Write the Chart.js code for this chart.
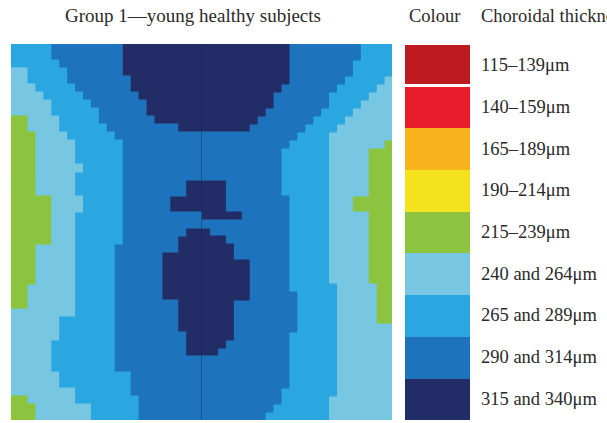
<!DOCTYPE html>
<html>
<head>
<meta charset="utf-8">
<script src="https://cdn.jsdelivr.net/npm/chart.js@4.4.0/dist/chart.umd.min.js"></script>
<style>
    body { margin: 0; width: 607px; height: 423px; overflow: hidden; background: #fff;
           font-family: "Liberation Serif", "DejaVu Serif", serif; color: #2a2a2a; position: relative; }
    #titulo { position: absolute; left: 0px; width: 386px; top: 5px; text-align: center; font-size: 19px; }
    #divMapa { position: absolute; left: 11px; top: 44px; width: 381px; height: 376px; }
    #cabCor { position: absolute; left: 409px; top: 6px; font-size: 18.5px; }
    #cabEsp { position: absolute; left: 481px; top: 6px; font-size: 18.5px; white-space: nowrap; }
    #legenda { position: absolute; left: 405px; top: 45px; }
    .linhaLegenda { height: 41.7px; display: flex; align-items: center; }
    .caixaCor { width: 65px; height: 100%; box-sizing: border-box; }
    .textoLegenda { margin-left: 11px; font-size: 18.5px; white-space: nowrap; }
</style>
</head>
<body>
<div id="titulo">Group 1—young healthy subjects</div>
<div id="cabCor">Colour</div>
<div id="cabEsp">Choroidal thickness</div>
<div id="legenda"></div>
<div id="divMapa"><canvas id="mapa"></canvas></div>

<script>
// classes de espessura (legenda)
const faixas = ['115–139μm', '140–159μm', '165–189μm', '190–214μm', '215–239μm',
                '240 and 264μm', '265 and 289μm', '290 and 314μm', '315 and 340μm'];
const cores = ['#be1a22', '#ea1b2b', '#f8b21c', '#f3e21c', '#8cc43f',
               '#77c6e2', '#2aa7e0', '#1e74bc', '#222c66'];

// grade 48 colunas x 47 linhas, cada linha descrita pelas colunas onde muda a classe
const nColunas = 48;
const verdeEsqFim   = [0,0,0,0,0,0,0,0,0, 2,2, 3,3,3,3,3,3,3,3, 5,5,5,5,5,5, 3,3,3,3,3, 2,2,2, 0,0,0,0,0,0,0,0,0,0,0, 2, 3,3];
const claroEsqFim   = [0,0,0, 2,2,3,4,5,5,6,6,7,8, 8,8,9,8,8,8,9,9,8,8,8,8,8,8,8,8,8,8,8,8,8, 6,6,6, 5,5,5,5, 6,6, 8,8, 10,10];
const celesteEsqFim = [5,5,6,7,7,8,9,10,11,11,12,13, 14,14,14,14,14,14,14,14,14,14,14,14,14,
                       13,13,13,13,13,13,13,13,13,13,13,13,13,13,13,13, 15,15,15, 16,16,16];
const escuroIni     = [14,14,14,14,15,15,16,17,17,18,21, null,null,null,null,null,null, 22,22,20,20,24, null,
                       22,21,21,19,19,19,19,19,19,21,21,21,21,22,22,22, null,null,null,null,null,null,null,null];
const escuroFim     = [35,35,35,35,35,34,33,33,32,31,30, null,null,null,null,null,null, 27,27,27,27,29, null,
                       25,27,28,28,30,30,30,30,30,28,28,28,28,28,27,26, null,null,null,null,null,null,null,null];
const celesteDirIni = [44,44,43,43,42,41,40,40,39,38,37,36,35, 34,34,34,34,34,34,
                       35,35,35,35,35,35,35,35,35,35,35,35, 36,36,36,36,36, 35,35,35,35,35,35,35, 34,34, 33, 32];
const claroDirIni   = [48,48,48,48,47,46,45,44,43,42,41, 40,40,40,40,40,40,40,40,40,40,40,40,40,40,40,40,40,40,40,
                       41,41,41,41,41,41,41,41,41,41,41,41,41,41, 40,40,40];
const verdeDirIni   = [48,48,48,48,48,48,48,48,48,48,48,48, 47, 45,45,45,45,45,45, 43,43, 45,45,45,45,45,45,45,45,45,
                       46,46,46,46,46, 48,48,48,48,48,48,48,48,48,48,48,48];

function montarLegenda() {
    var divLegenda = document.getElementById('legenda');
    for (let i = 0; i < faixas.length; i++) {
        var linha = document.createElement('div');
        linha.classList.add('linhaLegenda');
        var caixa = document.createElement('div');
        caixa.classList.add('caixaCor');
        caixa.style.background = cores[i];
        if (i === 0) caixa.style.borderBottom = '3px solid #fff';
        var texto = document.createElement('span');
        texto.classList.add('textoLegenda');
        texto.textContent = faixas[i];
        linha.appendChild(caixa);
        linha.appendChild(texto);
        divLegenda.appendChild(linha);
    }
}

function criarMapa() {
    const linhas = verdeEsqFim.map((_, i) => i);
    const trechos = [[], [], [], [], [], [], [], [], []];
    const classeTrecho = [4, 5, 6, 7, 8, 7, 6, 5, 4];

    for (let r = 0; r < linhas.length; r++) {
        const temEscuro = escuroIni[r] !== null;
        const larguras = [
            verdeEsqFim[r],
            claroEsqFim[r] - verdeEsqFim[r],
            celesteEsqFim[r] - claroEsqFim[r],
            (temEscuro ? escuroIni[r] : celesteDirIni[r]) - celesteEsqFim[r],
            temEscuro ? escuroFim[r] - escuroIni[r] : 0,
            temEscuro ? celesteDirIni[r] - escuroFim[r] : 0,
            claroDirIni[r] - celesteDirIni[r],
            verdeDirIni[r] - claroDirIni[r],
            nColunas - verdeDirIni[r]
        ];
        larguras.forEach((w, k) => trechos[k].push(w > 0 ? w : null));
    }

    const datasets = trechos.map((dados, k) => ({
        data: dados,
        backgroundColor: cores[classeTrecho[k]],
        borderWidth: 0,
        inflateAmount: 0.6,
        barPercentage: 1,
        categoryPercentage: 1
    }));

    var contexto = document.getElementById('mapa').getContext('2d');
    new Chart(contexto, {
        type: 'bar',
        data: { labels: linhas, datasets: datasets },
        options: {
            indexAxis: 'y',
            responsive: true,
            maintainAspectRatio: false,
            animation: false,
            layout: { padding: 0 },
            plugins: { legend: { display: false }, tooltip: { enabled: false } },
            scales: {
                x: {
                    stacked: true, min: 0, max: nColunas,
                    afterBuildTicks: eixo => { eixo.ticks = [{ value: nColunas / 2 }]; },
                    ticks: { display: false },
                    border: { display: false },
                    grid: { z: 1, drawTicks: false, color: 'rgba(15,30,80,0.4)', lineWidth: 1 }
                },
                y: { stacked: true, display: false }
            }
        }
    });
}

montarLegenda();
criarMapa();
</script>
</body>
</html>
